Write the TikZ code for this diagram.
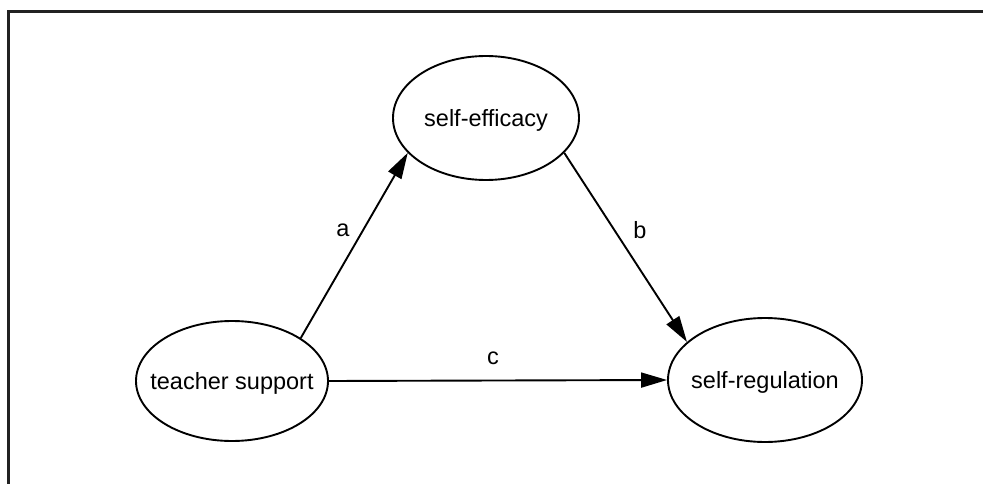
\documentclass[tikz,border=0pt]{standalone}
\usepackage{fontspec}
\setmainfont{Liberation Sans}
\usetikzlibrary{shapes.geometric,arrows.meta}
\definecolor{framegray}{HTML}{222222}
\tikzset{
  varnode/.style={ellipse, draw=black, line width=1.9pt, inner sep=0pt},
  vartext/.style={font=\fontsize{23.5}{28}\selectfont, inner sep=0pt, yshift=-2pt},
  patharrow/.style={line width=1.9pt, -{Triangle[length=26pt,width=15pt]}},
  pathlabel/.style={font=\fontsize{23.5}{28}\selectfont, inner sep=0pt},
  frameline/.style={draw=framegray, line width=2.6pt}
}
\begin{document}
\begin{tikzpicture}[x=1pt,y=-1pt]
\useasboundingbox (0,0) rectangle (983,484);
\coordinate (fbl) at (8.3,484);
\coordinate (ftl) at (8.3,11.3);
\coordinate (ftr) at (983,11.3);
\draw[frameline] (fbl) -- (ftl) -- (ftr);

\node[varnode, minimum width=192pt, minimum height=120pt,
  label={[vartext]center:teacher support}] (ts) at (232,381) {};
\node[varnode, minimum width=186pt, minimum height=124pt,
  label={[vartext]center:self-efficacy}] (se) at (486,118) {};
\node[varnode, minimum width=194pt, minimum height=124pt,
  label={[vartext]center:self-regulation}] (sr) at (765,380) {};

\draw[patharrow] (ts.32) -- (se.204);
\draw[patharrow] (se.-24) -- (sr.154);
\draw[patharrow] (ts.east) -- (sr.west);

\node[pathlabel] (la) at (343,230) {a};
\node[pathlabel] (lb) at (640,230) {b};
\node[pathlabel] (lc) at (493,358) {c};
\end{tikzpicture}
\end{document}
